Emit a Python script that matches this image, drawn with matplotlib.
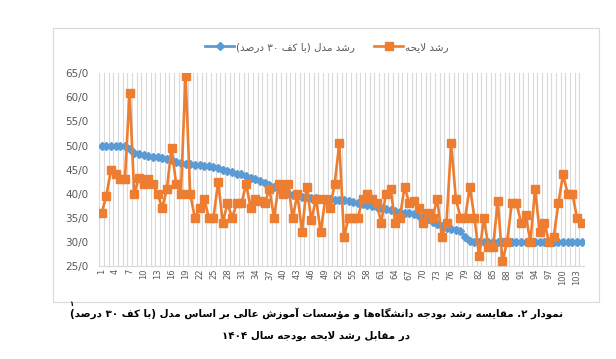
import re
import matplotlib
matplotlib.use("Agg")
import matplotlib.pyplot as plt
from matplotlib.patches import Rectangle
from matplotlib.ticker import FuncFormatter, MultipleLocator

# ---- data ----
categories = list(range(1, 105))
tick_labels = [str(c) for c in range(1, 105, 3)]

model_growth = [50.0, 50.0, 50.0, 50.0, 50.0, 50.0, 49.3, 48.5, 48.2, 48.0,
                47.8, 47.7, 47.6, 47.4, 47.2, 47.0, 46.6, 46.4, 46.2, 46.1,
                46.0, 45.9, 45.8, 45.7, 45.5, 45.3, 45.0, 44.7, 44.5, 44.2,
                44.0, 43.7, 43.3, 43.0, 42.6, 42.2, 41.8, 41.3, 40.9, 40.5,
                40.2, 39.8, 39.6, 39.4, 39.3, 39.2, 39.1, 39.0, 39.0, 38.9,
                38.8, 38.7, 38.6, 38.5, 38.3, 38.1, 37.9, 37.7, 37.5, 37.3,
                37.1, 36.9, 36.7, 36.5, 36.3, 36.1, 35.9, 35.7, 35.4, 35.1,
                34.7, 34.2, 33.7, 33.2, 32.8, 32.6, 32.5, 32.3, 31.0, 30.2,
                30.0, 30.0, 30.0, 30.0, 30.0, 30.0, 30.0, 30.0, 30.0, 30.0,
                30.0, 30.0, 30.0, 30.0, 30.0, 30.0, 30.0, 30.0, 30.0, 30.0,
                30.0, 30.0, 30.0, 30.0]

bill_growth = [36, 39.5, 45, 44, 43, 43, 61, 40, 43.2, 42,
               43, 42, 40, 37, 41, 49.5, 42, 40, 64.5, 40,
               35, 37, 39, 35, 35, 42.5, 34, 38, 35, 38,
               38, 42, 37, 39, 38.5, 38, 41, 35, 42, 40,
               42, 35, 40, 32, 41.5, 34.5, 39, 32, 39, 37,
               42, 50.5, 31, 35, 35, 35, 39, 40, 39, 38,
               34, 40, 41, 34, 35, 41.5, 38, 38.5, 37, 34,
               36, 35, 39, 31, 34, 50.5, 39, 35, 35, 41.5,
               35, 27, 35, 29, 29, 38.5, 26, 30, 38, 38,
               34, 35.5, 30, 41, 32, 34, 30, 31, 38, 44,
               40, 40, 35, 34]

label_model = "رشد مدل (با کف ۳۰ درصد)"
label_bill = "رشد لایحه"
caption_1 = "نمودار ۲. مقایسه رشد بودجه دانشگاه\u200cها و مؤسسات آموزش عالی بر اساس مدل (با کف ۳۰ درصد)"
caption_2 = "در مقابل رشد لایحه بودجه سال ۱۴۰۴"
footnote = "۱"

# ---- minimal Persian shaping (matplotlib has no bidi / joining) ----
FORMS = {
    'ا': (0xFE8D, 0xFE8E), 'آ': (0xFE81, 0xFE82), 'ؤ': (0xFE85, 0xFE86),
    'د': (0xFEA9, 0xFEAA), 'ر': (0xFEAD, 0xFEAE), 'ز': (0xFEAF, 0xFEB0),
    'و': (0xFEED, 0xFEEE),
    'ب': (0xFE8F, 0xFE90, 0xFE91, 0xFE92), 'ت': (0xFE95, 0xFE96, 0xFE97, 0xFE98),
    'ج': (0xFE9D, 0xFE9E, 0xFE9F, 0xFEA0), 'ح': (0xFEA1, 0xFEA2, 0xFEA3, 0xFEA4),
    'س': (0xFEB1, 0xFEB2, 0xFEB3, 0xFEB4), 'ش': (0xFEB5, 0xFEB6, 0xFEB7, 0xFEB8),
    'ص': (0xFEB9, 0xFEBA, 0xFEBB, 0xFEBC), 'ع': (0xFEC9, 0xFECA, 0xFECB, 0xFECC),
    'ف': (0xFED1, 0xFED2, 0xFED3, 0xFED4), 'ق': (0xFED5, 0xFED6, 0xFED7, 0xFED8),
    'ل': (0xFEDD, 0xFEDE, 0xFEDF, 0xFEE0), 'م': (0xFEE1, 0xFEE2, 0xFEE3, 0xFEE4),
    'ن': (0xFEE5, 0xFEE6, 0xFEE7, 0xFEE8), 'ه': (0xFEE9, 0xFEEA, 0xFEEB, 0xFEEC),
    'ی': (0xFBFC, 0xFBFD, 0xFBFE, 0xFBFF), 'ک': (0xFB8E, 0xFB8F, 0xFB90, 0xFB91),
    'گ': (0xFB92, 0xFB93, 0xFB94, 0xFB95),
}
LAM_ALEF = {'ا': (0xFEFB, 0xFEFC), 'آ': (0xFEF5, 0xFEF6)}
DIGITS = "0123456789۰۱۲۳۴۵۶۷۸۹"


def shape(text):
    out = []
    i = 0
    n = len(text)
    while i < n:
        c = text[i]
        if c == '\u200c':
            i += 1
            continue
        if c not in FORMS:
            out.append(c)
            i += 1
            continue
        prev = text[i - 1] if i > 0 else ''
        joins_prev = prev in FORMS and len(FORMS[prev]) == 4
        if c == 'ل' and i + 1 < n and text[i + 1] in LAM_ALEF:
            lig = LAM_ALEF[text[i + 1]]
            out.append(chr(lig[1] if joins_prev else lig[0]))
            i += 2
            continue
        nxt = text[i + 1] if i + 1 < n else ''
        f = FORMS[c]
        joins_next = len(f) == 4 and nxt in FORMS
        if joins_prev and joins_next:
            out.append(chr(f[3]))
        elif joins_prev:
            out.append(chr(f[1]))
        elif joins_next:
            out.append(chr(f[2]))
        else:
            out.append(chr(f[0]))
        i += 1
    return ''.join(out)


def rtl(text):
    s = shape(text)
    runs = re.findall('[%s]+|[^%s]+' % (DIGITS, DIGITS), s)
    mirror = str.maketrans('()', ')(')
    res = []
    for r in reversed(runs):
        if r[0] in DIGITS:
            res.append(r)
        else:
            res.append(r[::-1].translate(mirror))
    return ''.join(res)


# ---- figure ----
plt.rcParams['font.family'] = ['DejaVu Sans']
fig = plt.figure(figsize=(6.16, 3.59), dpi=100)
fig.patches.append(Rectangle((53 / 616, 1 - 302 / 359), 546 / 616, 274 / 359,
                             transform=fig.transFigure, fill=False,
                             edgecolor='#d9d9d9', linewidth=0.8))

ax = fig.add_axes([99.3 / 616, 1 - 266 / 359, 484.7 / 616, 192.7 / 359])

blue = '#5b9bd5'
orange = '#ed7d31'
ax.plot(categories, model_growth, color=blue, linewidth=2.0, marker='D',
        markersize=3.6, label=rtl(label_model), zorder=3)
ax.plot(categories, bill_growth, color=orange, linewidth=1.9, marker='s',
        markersize=5.5, label=rtl(label_bill), zorder=4)

ax.set_xlim(0.5, 104.5)
ax.set_ylim(25, 65)
ax.yaxis.set_major_locator(MultipleLocator(5))
ax.yaxis.set_major_formatter(FuncFormatter(lambda v, p: f"{v:.1f}".replace('.', '/')))
ax.set_xticks(list(range(1, 105, 3)))
ax.set_xticklabels(tick_labels, rotation=90, va='top')
ax.set_xticks([c + 0.5 for c in range(0, 105)], minor=True)
ax.grid(True, axis='x', which='minor', color='#d9d9d9', linewidth=0.8)
ax.tick_params(axis='both', which='both', length=0)
ax.tick_params(axis='y', labelsize=7.5, labelcolor='#595959', pad=8)
ax.tick_params(axis='x', labelsize=6, labelcolor='#595959', pad=2)
for side in ['top', 'right', 'left']:
    ax.spines[side].set_visible(False)
ax.spines['bottom'].set_color('#d9d9d9')

ax.legend(loc='center', bbox_to_anchor=(327 / 616, 1 - 47 / 359),
          bbox_transform=fig.transFigure, ncol=2, frameon=False,
          fontsize=7.5, labelcolor='#595959', handlelength=2.8,
          handletextpad=0.2, columnspacing=1.8)

fig.text(316 / 616, 1 - 313 / 359, rtl(caption_1), ha='center', va='center',
         fontsize=7.4, fontweight='bold')
fig.text(316 / 616, 1 - 336 / 359, rtl(caption_2), ha='center', va='center',
         fontsize=7.4, fontweight='bold')
fig.text(71 / 616, 1 - 304 / 359, footnote, ha='center', va='center',
         fontsize=5, fontweight='bold')

fig.savefig('out.png', dpi=100)
